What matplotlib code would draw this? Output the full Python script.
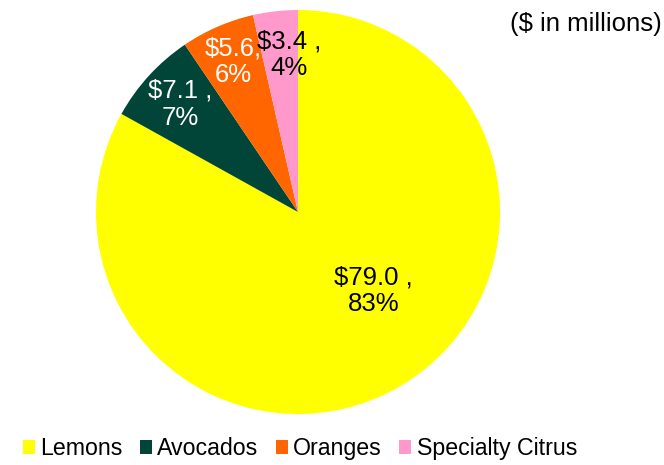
import matplotlib.pyplot as plt
import numpy as np
from matplotlib.patches import Patch

plt.rcParams['font.family'] = ['Liberation Sans', 'DejaVu Sans']

# crop revenue ($ in millions)
crops = ["Lemons", "Avocados", "Oranges", "Specialty Citrus"]
revenue = [79.0, 7.1, 5.6, 3.4]
labels = ["$79.0 ,\n83%", "$7.1 ,\n7%", "$5.6,\n6%", "$3.4 ,\n4%"]
colors = ["#FFFF00", "#004537", "#FF6600", "#FF99CC"]
text_colors = ["black", "white", "white", "black"]
# label radius and angle shift (deg) off the wedge bisector, like excel best-fit
label_dist = [0.54, 0.79, 0.81, 0.78]
label_shift = [13.5, 0, 0, -3.1]

fig = plt.figure(figsize=(6.64, 4.65), dpi=100)
ax = fig.add_axes([96 / 664, 51 / 465, 404 / 664, 404 / 465])

wedges, _ = ax.pie(revenue, colors=colors, startangle=90, counterclock=False,
                   radius=1.0, wedgeprops=dict(linewidth=0))
ax.set_xlim(-1, 1)
ax.set_ylim(-1, 1)
ax.set_aspect("auto")

for i, w in enumerate(wedges):
    ang = np.deg2rad((w.theta1 + w.theta2) / 2 + label_shift[i])
    x = label_dist[i] * np.cos(ang)
    y = label_dist[i] * np.sin(ang)
    ax.text(x, y, labels[i], ha="center", va="center", fontsize=18.5,
            color=text_colors[i], linespacing=1.15)

fig.text(0.997, 0.975, "($ in millions)", ha="right", va="top", fontsize=18.5)

handles = [Patch(facecolor=c, edgecolor="none") for c in colors]
fig.legend(handles, crops, loc="lower center", bbox_to_anchor=(0.452, -0.025),
           ncol=4, frameon=False, fontsize=16.7, handlelength=0.52, handleheight=0.55,
           handletextpad=0.22, columnspacing=0.75, borderpad=0.2)

fig.savefig("out.png", dpi=100)
